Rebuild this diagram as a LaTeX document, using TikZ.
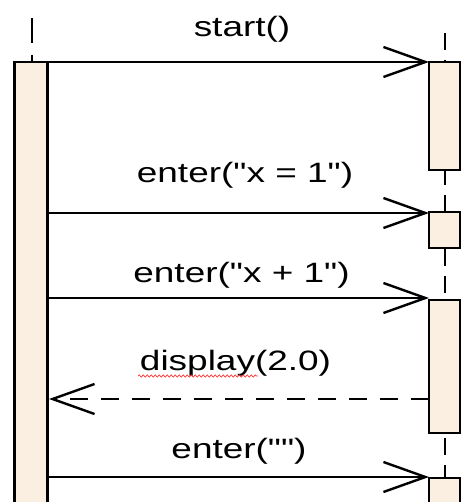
\documentclass[tikz,border=0pt]{standalone}
\usepackage{fontspec}
\newfontfamily\msgfont[FakeStretch=1.32,Ligatures=TeXOff]{Liberation Sans}
\usetikzlibrary{arrows.meta,positioning,decorations.pathmorphing}
\definecolor{actfill}{HTML}{FBEFE1}

\begin{document}
\begin{tikzpicture}[x=1pt,y=-1pt,
  act/.style={rectangle, draw=black, fill=actfill, line width=2.6pt,
              minimum width=31pt, anchor=north, inner sep=0pt, outer sep=0pt},
  lifeline/.style={line width=2.2pt},
  call/.style={line width=2.4pt, -{Straight Barb[length=42pt,width=30pt]}},
  reply/.style={call, dash pattern=on 18pt off 13pt},
  msg/.style={font=\msgfont\fontsize{28}{30}\selectfont, anchor=base, inner sep=0pt}]
\clip (0,0) rectangle (465,502);

% lifelines
\coordinate (callertop) at (32,18);
\coordinate (calleetop) at (445,33);
\coordinate (calleebot) at (445,510);
\draw[lifeline, dash pattern=on 25pt off 12pt] (callertop) -- (32,62);
\draw[lifeline, dash pattern=on 17pt off 10pt] (calleetop) -- (calleebot);

% activations
\node[act, minimum width=33pt, minimum height=460pt] (caller) at (31,62) {};
\node[act, minimum height=108pt] (act1) at (444.5,62) {};
\node[act, minimum height=36pt] (act2) at (444.5,212) {};
\node[act, minimum height=133pt] (act3) at (444.5,300) {};
\node[act, minimum height=40pt] (act4) at (444.5,478) {};

% messages
\draw[call] ([xshift=1.5pt]caller.east |- act1.north west) -- (act1.north west);
\node[msg] (m1) at (242,37) {start()};

\coordinate (in2) at ([yshift=-1pt]act2.north west);
\draw[call] ([xshift=1.5pt]caller.east |- in2) -- (in2);
\node[msg] (m2) at (245,183) {enter("x = 1")};

\coordinate (in3) at ([yshift=2pt]act3.north west);
\draw[call] ([xshift=1.5pt]caller.east |- in3) -- (in3);
\node[msg] (m3) at (241.5,282) {enter("x + 1")};

\coordinate (ret) at ([yshift=-99pt]act3.north west);
\draw[reply] (ret) -- ([xshift=1.5pt]caller.east |- ret);
\node[msg] (m4) at (235.5,370) {display(2.0)};
\draw[red!80, line width=0.7pt, decorate,
      decoration={snake, amplitude=1.1pt, segment length=4pt}] (138,376) -- (258,376);

\coordinate (in5) at ([yshift=1pt]act4.north west);
\draw[call] ([xshift=1.5pt]caller.east |- in5) -- (in5);
\node[msg] (m5) at (239,458) {enter("")};
\end{tikzpicture}
\end{document}
